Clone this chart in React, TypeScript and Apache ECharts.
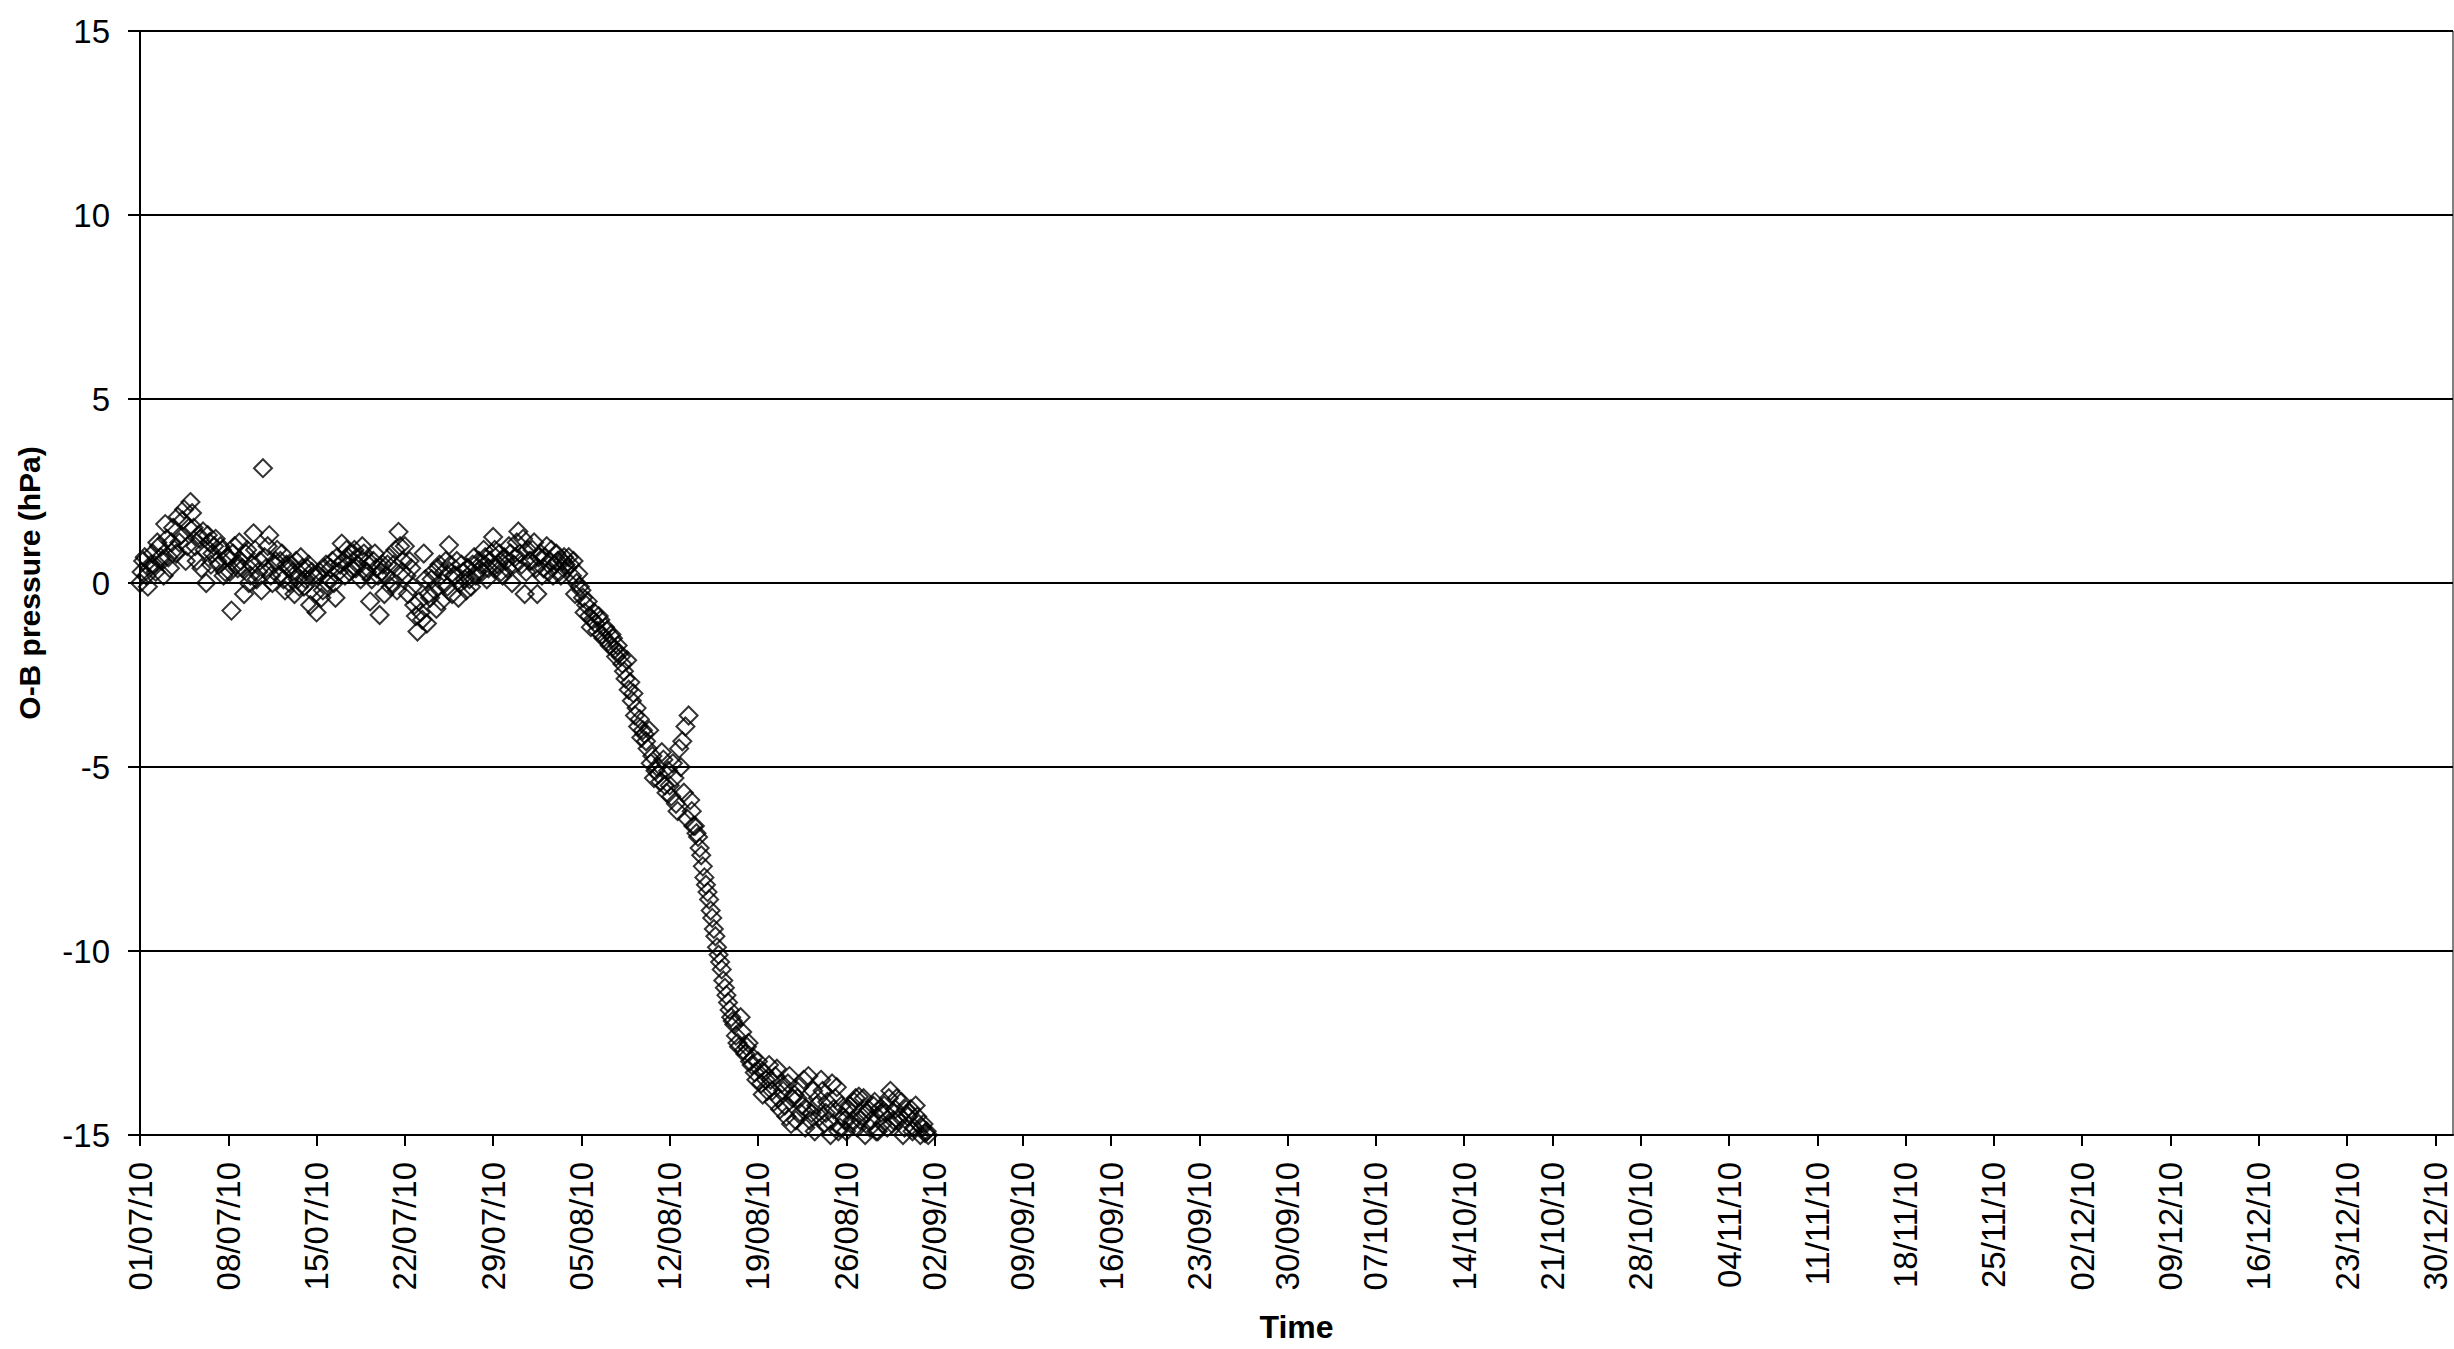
import React, { useEffect, useRef } from "react";
import * as echarts from "echarts";

// Series start and sampling (6-hourly main run plus 3-hour offset run, from 01/07/2010)
const startDateUTC = Date.UTC(2010, 6, 1);
const stepDays = 0.25;
const offsetDays = 0.125;

// O-B pressure (hPa) at 00/06/12/18 UTC
const obPressure: number[] = [
  0.0, 0.6, 0.2, 0.4,
  0.8, 0.3, 1.0, 0.6,
  1.6, 0.7, 1.1, 0.9,
  1.8, 1.3, 2.0, 1.0,
  2.2, 1.5, 0.6, 1.2,
  1.4, 0.0, 1.1, 0.8,
  1.2, 0.5, 0.9, 0.3,
  0.7, -0.75, 1.0, 0.4,
  0.6, -0.3, 0.9, 0.2,
  1.35, 0.1, 0.6, 3.12,
  0.4, 1.3, 0.0, 0.6,
  0.2, 0.8, -0.2, 0.4,
  0.5, -0.3, 0.1, 0.7,
  -0.1, 0.4, -0.6, 0.2,
  -0.8, 0.3, -0.2, 0.5,
  0.1, 0.6, -0.4, 0.3,
  1.07, 0.2, 0.7, 0.4,
  0.9, 0.5, 0.1, 0.8,
  0.3, -0.5, 0.6, 0.4,
  -0.87, 0.5, 0.2, 0.7,
  0.0, 0.9, 1.39, 0.3,
  1.0, -0.3, 0.4, -0.6,
  -1.32, -0.8, 0.8, -1.1,
  -0.4, 0.3, -0.7, 0.5,
  0.0, 0.6, 1.03, -0.3,
  0.2, -0.4, 0.5, 0.1,
  0.4, -0.1, 0.7, 0.3,
  0.5, 0.9, 0.1, 0.6,
  1.25, 0.4, 0.8, 0.2,
  0.6, 1.0, 0.0, 0.7,
  1.4, 0.5, -0.3, 0.9,
  0.6, 1.1, -0.3, 0.8,
  0.4, 1.0, 0.6, 0.2,
  0.8, 0.3, 0.6, 0.5,
  0.7, 0.2, -0.3, 0.25,
  -0.2, -0.8, -0.5, -1.2,
  -0.8, -1.3, -1.0, -1.5,
  -1.3, -1.7, -1.5, -2.0,
  -1.9, -2.2, -2.6, -2.9,
  -3.2, -3.6, -3.9, -4.2,
  -4.1, -4.5, -4.9, -5.3,
  -5.0, -5.4, -4.8, -5.7,
  -5.5, -4.9, -6.0, -4.5,
  -4.3, -3.9, -3.6, -6.2,
  -6.6, -6.9, -7.4, -8.0,
  -8.4, -8.9, -9.4, -9.9,
  -10.3, -10.8, -11.2, -11.6,
  -11.9, -12.3, -12.6, -12.2,
  -12.8, -12.5, -13.1, -13.3,
  -13.0, -13.6, -13.3, -13.8,
  -13.5, -14.1, -13.2, -14.3,
  -13.8, -14.5, -13.4, -14.0,
  -14.6, -13.7, -14.2, -14.8,
  -13.4, -14.4, -14.9, -14.0,
  -13.5, -14.7, -14.1, -15.0,
  -14.3, -13.7, -14.8, -14.5,
  -14.9, -14.2, -14.6, -14.0,
  -13.96, -14.5, -15.0, -14.3,
  -14.6, -14.1, -14.9, -14.4,
  -14.2, -14.8, -13.8, -14.6,
  -14.0, -14.5, -15.0, -14.3,
  -14.4, -14.9, -14.2, -14.7,
  -14.8, -14.95, -15.0,
];

// O-B pressure (hPa) at 03/09/15/21 UTC
const obPressureOffset: number[] = [
  0.3, 0.7, -0.1, 0.5,
  0.5, 1.1, 0.7, 0.2,
  1.2, 0.4, 1.5, 0.8,
  1.1, 1.7, 0.6, 1.5,
  1.9, 1.0, 1.3, 0.4,
  0.9, 1.3, 0.5, 1.0,
  0.6, 1.0, 0.2, 0.7,
  0.3, 0.8, 0.5, 1.1,
  0.4, 0.8, 0.0, 0.5,
  0.9, 0.3, -0.2, 0.7,
  1.0, 0.2, 0.5, 0.9,
  0.6, 0.1, 0.5, 0.0,
  0.3, 0.6, -0.1, 0.4,
  0.1, 0.5, 0.3, -0.3,
  0.2, -0.4, 0.4, 0.0,
  0.4, 0.0, 0.7, 0.5,
  0.6, 0.9, 0.3, 0.8,
  0.4, 0.7, 1.0, 0.3,
  0.6, 0.1, 0.8, 0.2,
  0.3, -0.3, 0.5, -0.1,
  0.5, -0.2, 1.0, 0.6,
  0.2, 0.6, -0.1, -0.9,
  -0.5, -1.0, 0.1, -0.3,
  0.1, -0.2, 0.4, -0.5,
  0.3, -0.1, 0.5, 0.2,
  0.6, 0.0, 0.3, -0.2,
  0.1, 0.5, 0.2, 0.6,
  0.3, 0.7, 0.4, 0.8,
  0.9, 0.5, 0.3, 0.7,
  0.4, 0.8, 0.5, 1.1,
  0.8, 1.2, 0.3, 0.6,
  0.9, 0.4, 0.7, 0.2,
  0.7, 0.3, 0.9, 0.5,
  0.6, 0.2, 0.7, 0.4,
  0.5, 0.6, 0.0, -0.1,
  -0.4, -0.6, -0.9, -1.0,
  -1.1, -0.9, -1.4, -1.2,
  -1.6, -1.4, -1.8, -1.7,
  -2.0, -2.4, -2.1, -2.7,
  -3.0, -3.4, -3.7, -4.0,
  -4.3, -4.0, -4.7, -5.1,
  -5.2, -4.6, -5.5, -5.1,
  -5.8, -5.3, -6.2, -5.0,
  -5.7, -6.4, -5.9, -6.6,
  -6.8, -7.2, -7.7, -8.2,
  -8.6, -9.1, -9.6, -10.1,
  -10.5, -11.0, -11.4, -11.8,
  -12.0, -12.5, -11.8, -12.7,
  -12.6, -13.0, -12.9, -13.5,
  -13.2, -13.9, -13.5, -13.1,
  -13.8, -13.4, -14.0, -13.6,
  -14.2, -13.6, -14.7, -13.9,
  -14.0, -14.4, -13.5, -14.3,
  -14.6, -13.8, -14.2, -14.5,
  -13.8, -14.4, -14.6, -13.6,
  -14.0, -14.9, -14.2, -14.6,
  -14.3, -14.7, -14.1, -14.8,
  -14.6, -14.0, -14.4, -14.8,
  -14.2, -14.9, -14.3, -14.7,
  -14.4, -14.0, -14.7, -14.3,
  -14.6, -14.1, -14.8, -14.5,
  -14.3, -14.8, -14.5, -15.0,
  -14.7, -14.9,
];

// Weekly tick positions (days after 01/07/10), 01/07/10 ... 30/12/10
const weeklyTickDays: number[] = [
  0, 7, 14, 21, 28, 35, 42, 49, 56, 63, 70, 77, 84, 91,
  98, 105, 112, 119, 126, 133, 140, 147, 154, 161, 168, 175, 182,
];
const xAxisMaxDays = 183.4;

const yTicks = { min: -15, max: 15, interval: 5 };

const FONT = "'Liberation Sans', Arial, Helvetica, sans-serif";

function pad2(n: number): string {
  return n < 10 ? "0" + n : String(n);
}

function dayToLabel(day: number): string {
  const d = new Date(startDateUTC + Math.round(day) * 86400000);
  return (
    pad2(d.getUTCDate()) +
    "/" +
    pad2(d.getUTCMonth() + 1) +
    "/" +
    pad2(d.getUTCFullYear() % 100)
  );
}

export default function App() {
  const ref = useRef<HTMLDivElement>(null);

  useEffect(() => {
    if (!ref.current) return;
    const chart = echarts.init(ref.current, undefined, { renderer: "svg" });
    const points: number[][] = [];
    obPressure.forEach((v, i) => points.push([i * stepDays, v]));
    obPressureOffset.forEach((v, i) =>
      points.push([offsetDays + i * stepDays, v])
    );
    points.sort((a, b) => a[0] - b[0]);

    chart.setOption({
      animation: false,
      backgroundColor: "#ffffff",
      grid: {
        left: 140,
        right: 1,
        top: 31,
        bottom: 214,
        show: true,
        borderColor: "#000000",
        borderWidth: 1,
        backgroundColor: "transparent",
      },
      xAxis: {
        type: "value",
        min: 0,
        max: xAxisMaxDays,
        name: "Time",
        nameLocation: "middle",
        nameGap: 176,
        nameTextStyle: {
          fontFamily: FONT,
          fontWeight: "bold",
          fontSize: 32,
          color: "#000",
        },
        axisLine: {
          show: true,
          onZero: false,
          lineStyle: { color: "#000", width: 2 },
        },
        axisTick: {
          show: true,
          inside: false,
          length: 11,
          customValues: weeklyTickDays,
          lineStyle: { color: "#000", width: 2 },
        },
        axisLabel: {
          show: true,
          customValues: weeklyTickDays,
          rotate: 90,
          margin: 27,
          fontFamily: FONT,
          fontSize: 33,
          color: "#000",
          formatter: (val: number) => dayToLabel(val),
        },
        splitLine: { show: false },
      },
      yAxis: {
        type: "value",
        min: yTicks.min,
        max: yTicks.max,
        interval: yTicks.interval,
        name: "O-B pressure (hPa)",
        nameLocation: "middle",
        nameGap: 96,
        nameTextStyle: {
          fontFamily: FONT,
          fontWeight: "bold",
          fontSize: 30,
          color: "#000",
        },
        axisLine: {
          show: true,
          onZero: false,
          lineStyle: { color: "#000", width: 2 },
        },
        axisTick: {
          show: true,
          inside: false,
          length: 12,
          lineStyle: { color: "#000", width: 2 },
        },
        axisLabel: {
          margin: 30,
          fontFamily: FONT,
          fontSize: 33,
          color: "#000",
        },
        splitLine: {
          show: true,
          lineStyle: { color: "#000", width: 2 },
        },
      },
      series: [
        {
          type: "scatter",
          data: points,
          symbol: "diamond",
          symbolSize: 18,
          clip: true,
          itemStyle: {
            color: "transparent",
            borderColor: "#000",
            borderWidth: 2,
          },
          emphasis: { disabled: true },
        },
      ],
    });

    return () => {
      chart.dispose();
    };
  }, []);

  return (
    <div
      ref={ref}
      style={{
        position: "absolute",
        left: 0,
        top: 0,
        width: 2454,
        height: 1349,
        background: "#fff",
      }}
    />
  );
}
